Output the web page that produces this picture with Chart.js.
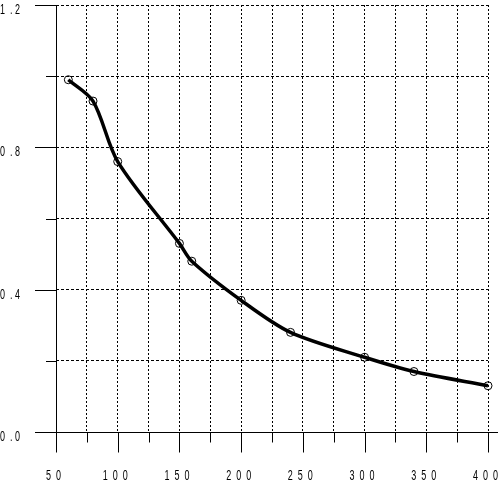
<!DOCTYPE html>
<html>
<head>
<meta charset="utf-8">
<script src="https://cdn.jsdelivr.net/npm/chart.js@4/dist/chart.umd.min.js"></script>
<style>
  html, body { margin: 0; padding: 0; background: #fff; }
  #wrap { width: 498px; height: 488px; }
</style>
</head>
<body>
<div id="wrap"><canvas id="curveChart" width="498" height="488"></canvas></div>
<script>
const xValues = [60, 80, 100, 150, 160, 200, 240, 300, 340, 400];
const yValues = [0.99, 0.93, 0.76, 0.53, 0.48, 0.37, 0.28, 0.21, 0.17, 0.13];
const xTickLabels = ["50", "100", "150", "200", "250", "300", "350", "400"];
const yTickLabels = ["0.0", "0.4", "0.8", "1.2"];

// narrow, widely spaced plotter-style digits
function drawSpaced(ctx, text, x, y) {
    let cx = x;
    for (const ch of text) {
        ctx.save();
        ctx.translate(cx, y);
        ctx.scale(0.6, 1);
        ctx.fillText(ch, 0, 0);
        ctx.restore();
        cx += ch === "." ? 5 : 10;
    }
}
function spacedWidth(text) {
    let w = 0;
    for (const ch of text) w += ch === "." ? 5 : 10;
    return w;
}

// tick marks, axis extension and labels, placed through the scales
const axisMarks = {
    id: "axisMarks",
    afterDraw(chart) {
        const ctx = chart.ctx;
        const xs = chart.scales.x, ys = chart.scales.y;
        const base = Math.round(ys.getPixelForValue(0)) + 0.5;
        const left = Math.round(xs.getPixelForValue(50)) + 0.5;
        ctx.save();
        ctx.strokeStyle = "#000";
        ctx.lineWidth = 1;
        ctx.setLineDash([]);
        ctx.beginPath();
        ctx.moveTo(35, base);
        ctx.lineTo(chart.width, base);
        ctx.moveTo(left, ys.getPixelForValue(1.2));
        ctx.lineTo(left, base);
        xs.ticks.forEach(t => {
            const px = Math.round(xs.getPixelForValue(t.value)) + 0.5;
            const major = xTickLabels.includes(String(t.value));
            ctx.moveTo(px, base);
            ctx.lineTo(px, base + (major ? 20 : 10));
        });
        ys.ticks.forEach(t => {
            const py = Math.round(ys.getPixelForValue(t.value)) + 0.5;
            const major = yTickLabels.includes(t.value.toFixed(1));
            ctx.moveTo(major ? 35 : 46, py);
            ctx.lineTo(left, py);
        });
        ctx.stroke();

        ctx.fillStyle = "#000";
        ctx.font = '15px "Liberation Sans", Arial, sans-serif';
        ctx.textBaseline = "alphabetic";
        ctx.textAlign = "left";
        xTickLabels.forEach(lab => {
            const px = xs.getPixelForValue(Number(lab));
            drawSpaced(ctx, lab, px - spacedWidth(lab) / 2, base + 47);
        });
        yTickLabels.forEach(lab => {
            const py = ys.getPixelForValue(Number(lab));
            drawSpaced(ctx, lab, 25 - spacedWidth(lab), py + 9);
        });
        ctx.restore();
    }
};

const ctx = document.getElementById("curveChart").getContext("2d");
new Chart(ctx, {
    type: "line",
    data: {
        datasets: [{
            data: xValues.map((x, i) => ({ x: x, y: yValues[i] })),
            borderColor: "#000",
            borderWidth: 3.5,
            tension: 0.3,
            pointRadius: 4,
            pointBorderWidth: 1,
            pointBorderColor: "#000",
            pointBackgroundColor: "rgba(0,0,0,0)",
            clip: 8
        }]
    },
    options: {
        responsive: false,
        animation: false,
        layout: { padding: { top: 5, right: 10, left: 0, bottom: 0 }, autoPadding: false },
        plugins: { legend: { display: false }, tooltip: { enabled: false } },
        scales: {
            x: {
                type: "linear",
                min: 50,
                max: 400,
                afterFit: s => {
                    s.height = 56;
                    s.paddingLeft = s.paddingRight = s.paddingTop = s.paddingBottom = 0;
                },
                ticks: { stepSize: 25, autoSkip: false, display: false },
                grid: { color: "#000", lineWidth: 1, drawTicks: false },
                border: { display: false, dash: [2, 2] }
            },
            y: {
                min: 0,
                max: 1.2,
                afterFit: s => {
                    s.width = 56;
                    s.paddingLeft = s.paddingRight = s.paddingTop = s.paddingBottom = 0;
                },
                ticks: { stepSize: 0.2, autoSkip: false, display: false },
                grid: { color: "#000", lineWidth: 1, drawTicks: false },
                border: { display: false, dash: [3, 2] }
            }
        }
    },
    plugins: [axisMarks]
});
</script>
</body>
</html>
